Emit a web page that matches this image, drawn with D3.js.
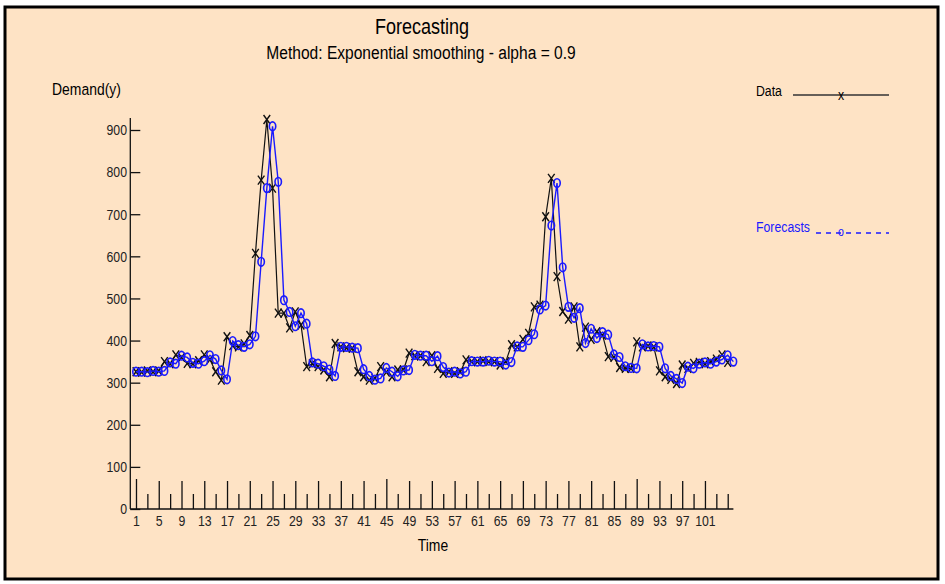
<!DOCTYPE html>
<html>
<head>
<meta charset="utf-8">
<script src="https://cdn.jsdelivr.net/npm/d3@7"></script>
<style>
  body { margin: 0; background: #fff; }
  text { font-family: "Liberation Sans", Arial, sans-serif; }
</style>
</head>
<body>
<svg id="chart" width="945" height="584"></svg>
<script>
/**
 * Data
 */
let demand = [
	326, 325, 328, 326, 328, 350, 345, 366, 360, 346,
	345, 352, 366, 355, 326, 306, 409, 388, 385, 392,
	412, 607, 781, 925, 762, 465, 465, 430, 468, 437,
	338, 345, 338, 330, 314, 393, 385, 383, 382, 326,
	314, 306, 310, 338, 325, 314, 330, 330, 370, 364,
	364, 350, 364, 334, 322, 326, 322, 326, 354, 350,
	350, 352, 350, 350, 342, 350, 390, 385, 403, 417,
	480, 484, 694, 785, 552, 469, 451, 480, 385, 432,
	403, 421, 413, 362, 360, 336, 334, 334, 397, 385,
	387, 385, 328, 314, 308, 298, 342, 334, 346, 348,
	345, 350, 356, 366, 348
];
let forecasts = [
	326, 326, 325, 328, 326, 328, 348, 345, 364, 360,
	347, 345, 351, 365, 356, 329, 308, 399, 389, 385,
	391, 410, 587, 762, 909, 777, 496, 468, 434, 465,
	440, 348, 345, 339, 331, 316, 385, 385, 383, 382,
	332, 316, 307, 310, 335, 326, 315, 329, 330, 366,
	364, 364, 351, 363, 337, 324, 326, 322, 326, 351,
	350, 350, 352, 350, 350, 343, 349, 386, 385, 401,
	415, 474, 483, 673, 774, 574, 480, 454, 477, 394,
	428, 406, 420, 414, 367, 361, 339, 335, 334, 391,
	386, 387, 385, 334, 316, 309, 299, 338, 334, 345,
	348, 345, 350, 355, 365, 350
];
let yTicks = [0, 100, 200, 300, 400, 500, 600, 700, 800, 900];
let xLabels = [1, 5, 9, 13, 17, 21, 25, 29, 33, 37, 41, 45, 49, 53, 57, 61, 65, 69, 73, 77, 81, 85, 89, 93, 97, 101];
let xLongTicks = [1, 45, 89];

/**
 * Layout
 */
let svg = d3.select("#chart");
let bg = "#fee3c5";
let blue = "#1a1aff";
let narrow = 0.82;
let margin = { left: 130.3, right: 733.4, top: 118, bottom: 509 };

svg.append("rect")
	.attr("x", 5).attr("y", 7)
	.attr("width", 933).attr("height", 572)
	.attr("fill", bg)
	.attr("stroke", "#000")
	.attr("stroke-width", 3);

// condensed text (no narrow font installed, so squeeze horizontally)
function label(parent, x, y, size, str) {
	return parent.append("text")
		.attr("transform", "translate(" + x + "," + y + ") scale(" + narrow + ",1)")
		.attr("font-size", size)
		.text(str);
}

/**
 * Scales
 */
let xScale = d3.scaleLinear().domain([0, 106]).range([margin.left, margin.right]);
let yScale = d3.scaleLinear().domain([0, 900]).range([margin.bottom, 130]);

/**
 * Titles
 */
label(svg, 422, 34, 22, "Forecasting").attr("text-anchor", "middle");
label(svg, 421, 59, 19, "Method: Exponential smoothing - alpha = 0.9").attr("text-anchor", "middle");
label(svg, 52, 95, 17, "Demand(y)");
label(svg, 433, 551, 17, "Time").attr("text-anchor", "middle");

/**
 * Y Axis (ticks point into the plot)
 */
let yAxis = d3.axisLeft(yScale)
	.tickValues(yTicks)
	.tickSize(-10)
	.tickPadding(4);

let yG = svg.append("g")
	.attr("transform", "translate(" + margin.left + ",0)")
	.call(yAxis);
yG.select(".domain").remove();
yG.selectAll("line").attr("stroke", "#111").attr("stroke-width", 1.3);
yG.selectAll("text")
	.attr("font-size", 15)
	.attr("fill", "#222")
	.attr("font-family", null)
	.attr("transform", "scale(" + narrow + ",1)");

svg.append("line")
	.attr("x1", margin.left).attr("x2", margin.left)
	.attr("y1", margin.bottom).attr("y2", margin.top)
	.attr("stroke", "#111").attr("stroke-width", 1.3);

/**
 * X Axis (ruler style ticks pointing up)
 */
let xAxis = d3.axisBottom(xScale)
	.tickValues(d3.range(1, 106, 2))
	.tickSize(-15)
	.tickPadding(6)
	.tickFormat(function(d) { return xLabels.includes(d) ? d : ""; });

let xG = svg.append("g")
	.attr("transform", "translate(0," + margin.bottom + ")")
	.call(xAxis);
xG.select(".domain").remove();
xG.selectAll(".tick line")
	.attr("stroke", "#111")
	.attr("stroke-width", 1.3)
	.attr("y2", function(d) {
		if (xLongTicks.includes(d)) return -30;
		return xLabels.includes(d) ? -28 : -15;
	});
xG.selectAll("text")
	.attr("font-size", 15)
	.attr("fill", "#222")
	.attr("font-family", null)
	.attr("transform", "scale(" + narrow + ",1)");

svg.append("line")
	.attr("x1", margin.left).attr("x2", margin.right)
	.attr("y1", margin.bottom).attr("y2", margin.bottom)
	.attr("stroke", "#111").attr("stroke-width", 1.3);

/**
 * Series
 */
let line = d3.line()
	.x(function(d, i) { return xScale(i + 1); })
	.y(function(d) { return yScale(d); });

let crossPath = "M-3.3,-4.5L3.3,4.5M3.3,-4.5L-3.3,4.5";

svg.append("path")
	.datum(demand)
	.attr("d", line)
	.attr("fill", "none")
	.attr("stroke", "#111")
	.attr("stroke-width", 1.2);

svg.append("g").selectAll("path")
	.data(demand)
	.enter().append("path")
	.attr("transform", function(d, i) { return "translate(" + xScale(i + 1) + "," + yScale(d) + ")"; })
	.attr("d", crossPath)
	.attr("fill", "none")
	.attr("stroke", "#111")
	.attr("stroke-width", 1.4);

svg.append("path")
	.datum(forecasts)
	.attr("d", line)
	.attr("fill", "none")
	.attr("stroke", blue)
	.attr("stroke-width", 1.4);

svg.append("g").selectAll("ellipse")
	.data(forecasts)
	.enter().append("ellipse")
	.attr("cx", function(d, i) { return xScale(i + 1); })
	.attr("cy", function(d) { return yScale(d); })
	.attr("rx", 3.2)
	.attr("ry", 4.3)
	.attr("fill", "none")
	.attr("stroke", blue)
	.attr("stroke-width", 1.6);

/**
 * Legend
 */
let legend = svg.append("g");

label(legend, 756, 96, 15, "Data");
legend.append("line")
	.attr("x1", 793).attr("x2", 889).attr("y1", 95).attr("y2", 95)
	.attr("stroke", "#333").attr("stroke-width", 1.5);
label(legend, 841, 100, 15, "x").attr("text-anchor", "middle");

label(legend, 756, 232, 15, "Forecasts").attr("fill", blue);
legend.append("line")
	.attr("x1", 816).attr("x2", 889).attr("y1", 233).attr("y2", 233)
	.attr("stroke", blue).attr("stroke-width", 1.3)
	.attr("stroke-dasharray", "5,5");
label(legend, 841, 236, 13, "o").attr("text-anchor", "middle").attr("fill", blue);
</script>
</body>
</html>
